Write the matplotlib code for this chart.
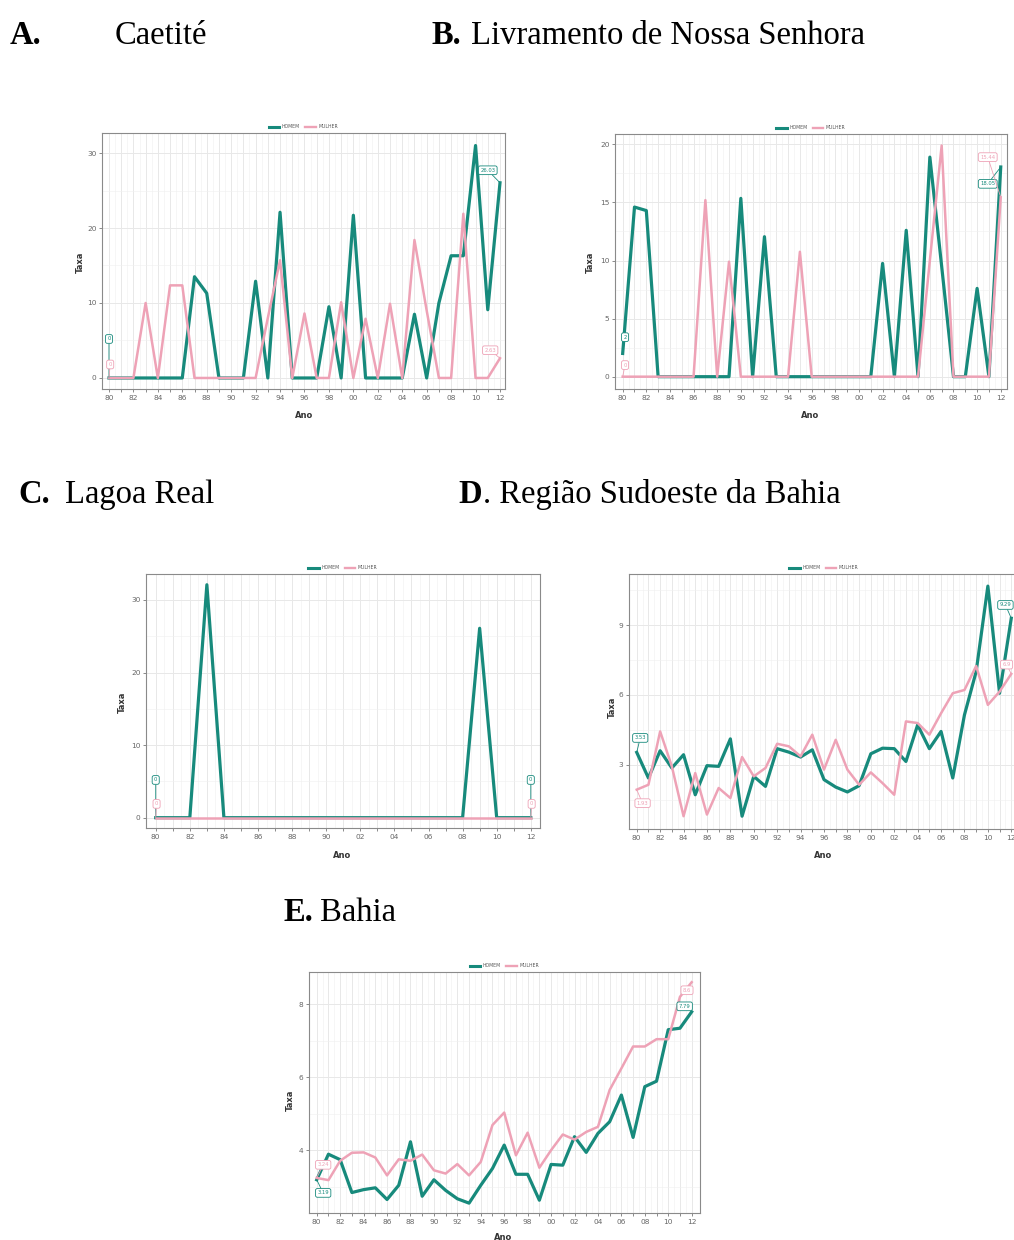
import numpy as np
import matplotlib
matplotlib.use('Agg')
import matplotlib.pyplot as plt
from matplotlib.lines import Line2D

W, H = 1014, 1240
TEAL = '#178a7c'
PINK = '#eea2b6'

# ---------------- data ----------------
years_full = list(range(1980, 2013))
years_c = list(range(1980, 1991)) + list(range(2001, 2013))

a_homem = [0, 0, 0, 0, 0, 0, 0, 13.5, 11.3, 0,
           0, 0, 12.9, 0, 22.1, 0, 0, 0, 9.5, 0,
           21.7, 0, 0, 0, 0, 8.5, 0, 10, 16.3, 16.3,
           31, 9.1, 26.03]
a_mulher = [0, 0, 0, 10, 0, 12.35, 12.35, 0, 0, 0,
            0, 0, 0, 8, 15.7, 0, 8.6, 0, 0, 10.1,
            0, 7.9, 0, 9.9, 0, 18.4, 9, 0, 0, 21.9,
            0, 0, 2.63]

b_homem = [2, 14.6, 14.3, 0, 0, 0, 0, 0, 0, 0,
           15.35, 0, 12.05, 0, 0, 0, 0, 0, 0, 0,
           0, 0, 9.75, 0, 12.6, 0, 18.9, 9.5, 0, 0,
           7.6, 0, 18.05]
b_mulher = [0, 0, 0, 0, 0, 0, 0, 15.2, 0, 9.9,
            0, 0, 0, 0, 0, 10.75, 0, 0, 0, 0,
            0, 0, 0, 0, 0, 0, 10, 19.9, 0, 0,
            0, 0, 15.44]

c_homem = [0, 0, 0, 32.1, 0, 0, 0, 0, 0, 0, 0,
           0, 0, 0, 0, 0, 0, 0, 0, 26.1, 0, 0, 0]
c_mulher = [0] * 23

d_homem = [3.53, 2.43, 3.6, 2.86, 3.43, 1.71, 2.96, 2.93, 4.11, 0.79,
           2.5, 2.07, 3.69, 3.54, 3.33, 3.64, 2.36, 2.04, 1.83, 2.1,
           3.47, 3.71, 3.69, 3.14, 4.71, 3.69, 4.43, 2.43, 5.14, 7.0,
           10.67, 6.07, 9.29]
d_mulher = [1.93, 2.14, 4.43, 2.93, 0.79, 2.64, 0.86, 2.0, 1.57, 3.33,
            2.5, 2.86, 3.9, 3.79, 3.36, 4.29, 2.79, 4.07, 2.79, 2.14,
            2.67, 2.21, 1.71, 4.86, 4.79, 4.29, 5.21, 6.07, 6.21, 7.24,
            5.57, 6.14, 6.9]

e_homem = [3.19, 3.89, 3.74, 2.84, 2.92, 2.97, 2.65, 3.04, 4.23, 2.74,
           3.19, 2.90, 2.67, 2.55, 3.04, 3.50, 4.14, 3.34, 3.34, 2.63,
           3.61, 3.59, 4.37, 3.94, 4.46, 4.78, 5.51, 4.35, 5.74, 5.89,
           7.30, 7.34, 7.79]
e_mulher = [3.24, 3.18, 3.71, 3.93, 3.94, 3.80, 3.31, 3.75, 3.71, 3.88,
            3.45, 3.36, 3.62, 3.31, 3.68, 4.69, 5.03, 3.86, 4.48, 3.52,
            4.0, 4.43, 4.29, 4.50, 4.64, 5.65, 6.24, 6.84, 6.84, 7.04,
            7.04, 8.2, 8.6]

legend_labels = ['HOMEM', 'MULHER']

# ---------------- figure ----------------
fig = plt.figure(figsize=(W / 100, H / 100), dpi=100)


def add_ax(l, t, r, b):
    return fig.add_axes([l / W, 1 - b / H, (r - l) / W, (b - t) / H])


def ftext(x, y, s, **kw):
    fig.text(x / W, 1 - y / H, s, **kw)


def fmt(v):
    return f"{v:g}"


def label(ax, x, y, tx, ty, color):
    ax.annotate(fmt(y), xy=(x, y), xytext=(tx, ty), textcoords='data',
                fontsize=3.8, color=color, ha='center', va='center',
                bbox=dict(boxstyle='round,pad=0.35', fc='white', ec=color, lw=0.6),
                arrowprops=dict(arrowstyle='-', color=color, lw=0.6,
                                shrinkA=0, shrinkB=0),
                zorder=6, annotation_clip=False)


def panel(box, yrs, hom, mul, xlim, ylim, yticks, labs):
    ax = add_ax(*box)
    x = np.arange(len(yrs))
    ax.plot(x, hom, color=TEAL, lw=2.3, zorder=3)
    ax.plot(x, mul, color=PINK, lw=1.8, zorder=4)
    ax.set_xlim(*xlim)
    ax.set_ylim(*ylim)
    ax.set_xticks(x)
    ax.set_xticklabels([f"{y % 100:02d}" if i % 2 == 0 else "" for i, y in enumerate(yrs)])
    ax.set_xticks(x[:-1] + 0.5, minor=True)
    ax.set_yticks(yticks)
    ax.set_yticklabels([fmt(v) for v in yticks])
    step = yticks[1] - yticks[0]
    minors = np.arange(yticks[0] - step / 2, ylim[1], step)
    ax.set_yticks([m for m in minors if ylim[0] < m < ylim[1]], minor=True)
    ax.grid(True, which='major', color='#e8e8e8', lw=0.7, zorder=0)
    ax.grid(True, which='minor', color='#f0f0f0', lw=0.4, zorder=0)
    ax.set_axisbelow(True)
    ax.tick_params(which='major', length=2, width=0.6, color='#777777',
                   labelsize=5.3, labelcolor='#666666', pad=2)
    ax.tick_params(which='minor', length=0)
    for s in ax.spines.values():
        s.set_color('#8a8a8a')
        s.set_linewidth(0.8)
    handles = [Line2D([], [], color=TEAL, lw=2.2), Line2D([], [], color=PINK, lw=1.7)]
    ax.legend(handles, legend_labels, loc='lower center', bbox_to_anchor=(0.5, 1.0),
              ncol=2, frameon=False, fontsize=3.3, handlelength=2.2,
              columnspacing=1.2, handletextpad=0.6, borderaxespad=0.4,
              labelcolor='#555555')
    for (xi, yi, tx, ty, series) in labs:
        vals = hom if series == 'h' else mul
        label(ax, xi, vals[xi], tx, ty, TEAL if series == 'h' else PINK)
    return ax


# Panel A
panel((102, 133, 505, 389), years_full, a_homem, a_mulher,
      (-0.57, 32.41), (-1.47, 32.67), [0, 10, 20, 30],
      [(0, 0, 0, 5.2, 'h'), (0, 0, 0.1, 1.8, 'm'),
       (32, 0, 31.0, 27.7, 'h'), (32, 0, 31.2, 3.7, 'm')])
# Panel B
panel((615, 134, 1007, 389), years_full, b_homem, b_mulher,
      (-0.65, 32.53), (-1.06, 20.89), [0, 5, 10, 15, 20],
      [(0, 0, 0.2, 3.4, 'h'), (0, 0, 0.2, 1.0, 'm'),
       (32, 0, 30.9, 16.6, 'h'), (32, 0, 30.9, 18.9, 'm')])
# Panel C
panel((146, 574, 540, 828), years_c, c_homem, c_mulher,
      (-0.57, 22.54), (-1.42, 33.58), [0, 10, 20, 30],
      [(0, 0, 0, 5.2, 'h'), (0, 0, 0.05, 1.9, 'm'),
       (22, 0, 22, 5.2, 'h'), (22, 0, 22.05, 1.9, 'm')])
# Panel D (extends past the right edge, as in the reference)
panel((629, 574, 1019, 829), years_full, d_homem, d_mulher,
      (-0.66, 32.66), (0.24, 11.19), [3, 6, 9],
      [(0, 0, 0.3, 4.15, 'h'), (0, 0, 0.5, 1.35, 'm'),
       (32, 0, 31.5, 9.86, 'h'), (32, 0, 31.6, 7.3, 'm')])
# Panel E
panel((309, 972, 700, 1213), years_full, e_homem, e_mulher,
      (-0.66, 32.71), (2.28, 8.88), [4, 6, 8],
      [(0, 0, 0.55, 2.83, 'h'), (0, 0, 0.55, 3.6, 'm'),
       (32, 0, 31.4, 7.94, 'h'), (32, 0, 31.6, 8.38, 'm')])

# axis titles
for (x, y) in [(80, 262), (590, 262), (122, 702), (612, 707), (290, 1100)]:
    ftext(x, y, 'Taxa', rotation=90, ha='center', va='center',
          fontsize=6, fontweight='bold', color='#333333')
for (x, y) in [(304, 415), (810, 415), (342, 856), (823, 856), (503, 1237)]:
    ftext(x, y, 'Ano', ha='center', va='center', fontsize=6,
          fontweight='bold', color='#333333')

# panel titles
serif = 'Liberation Serif'
TS = 23.5
ftext(10, 44, 'A.', fontsize=TS, fontweight='bold', family=serif, va='baseline')
ftext(115, 44, 'Caetité', fontsize=TS, family=serif, va='baseline')
ftext(432, 44, 'B.', fontsize=TS, fontweight='bold', family=serif, va='baseline')
ftext(471, 44, 'Livramento de Nossa Senhora', fontsize=TS, family=serif, va='baseline')
ftext(18, 503, 'C.', fontsize=TS, fontweight='bold', family=serif, va='baseline')
ftext(65, 503, 'Lagoa Real', fontsize=TS, family=serif, va='baseline')
ftext(458, 503, 'D', fontsize=TS, fontweight='bold', family=serif, va='baseline')
ftext(483, 503, '. Região Sudoeste da Bahia', fontsize=TS, family=serif, va='baseline')
ftext(283, 921, 'E.', fontsize=TS, fontweight='bold', family=serif, va='baseline')
ftext(320, 921, 'Bahia', fontsize=TS, family=serif, va='baseline')

fig.savefig('out.png', dpi=100, facecolor='white')
